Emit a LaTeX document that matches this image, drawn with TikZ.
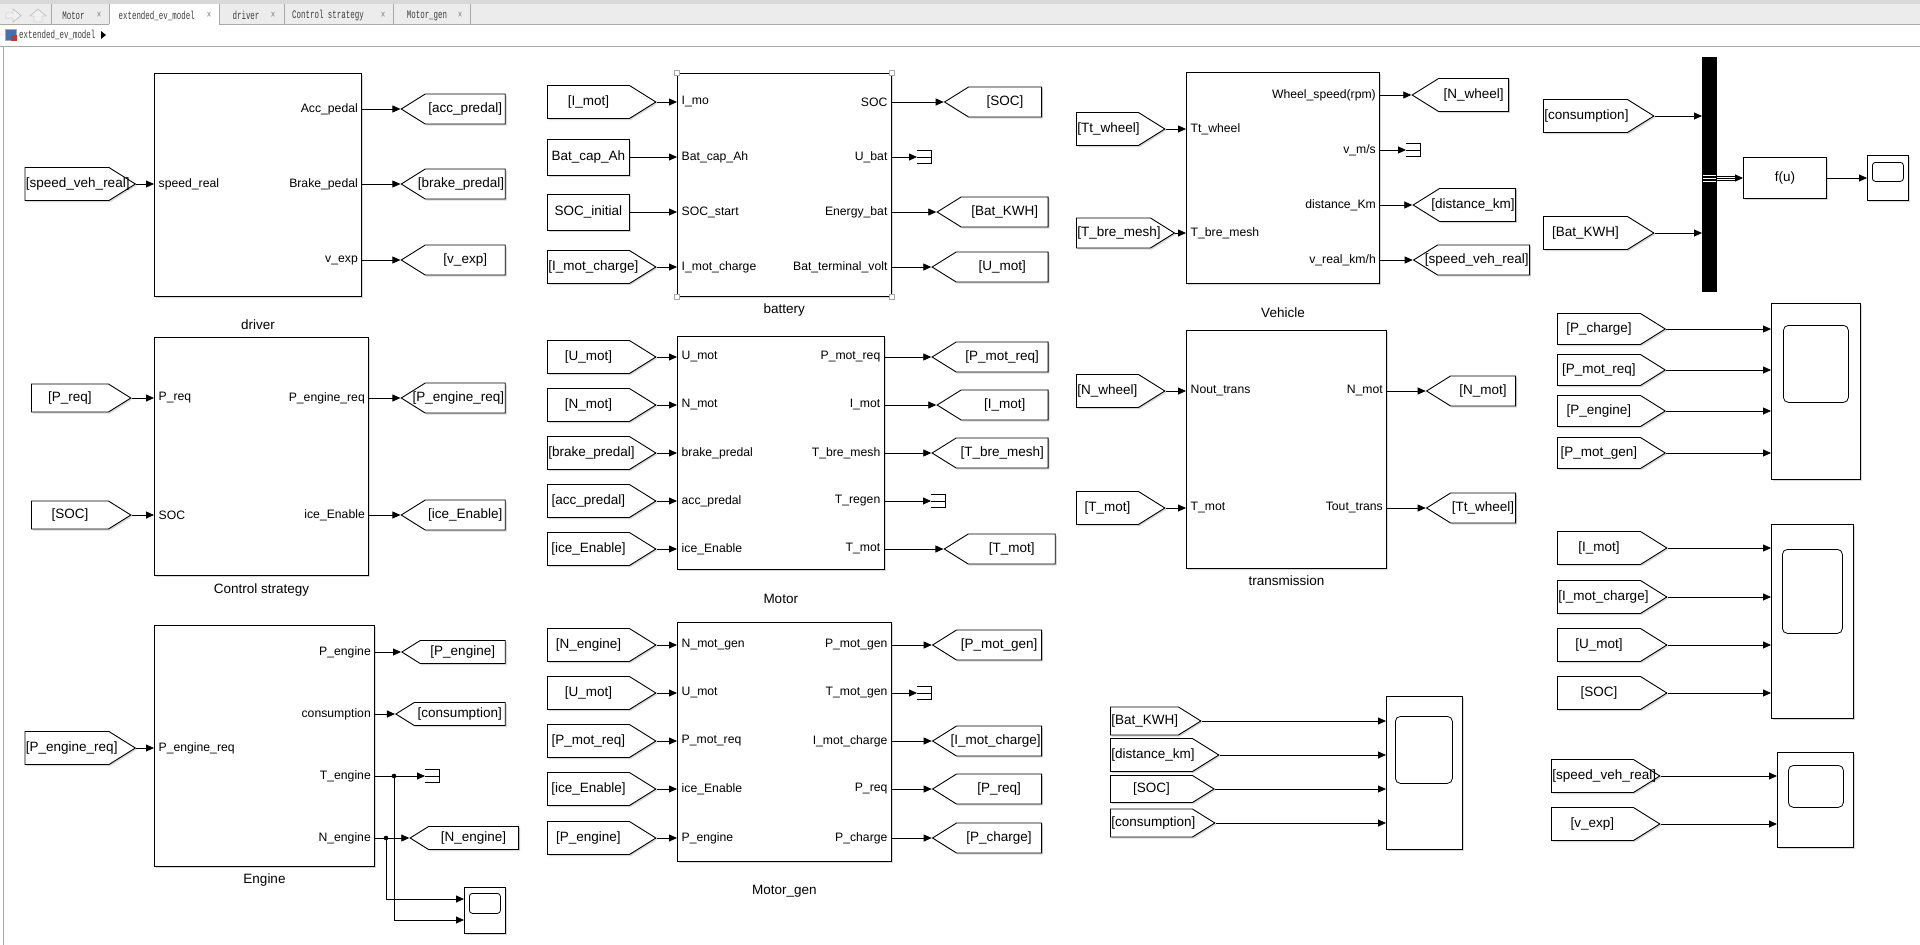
\documentclass[tikz,border=0pt]{standalone}
\usepackage{fontspec}
\setmainfont{Liberation Sans}
\newfontfamily\tabfont{Liberation Mono}
\usetikzlibrary{arrows.meta,positioning,shapes.symbols,shadows,calc}
\definecolor{chrome}{HTML}{ECECEC}
\definecolor{chromedark}{HTML}{D8D8D8}
\definecolor{rule}{HTML}{A9A9A9}
\definecolor{tabink}{HTML}{3C3C3C}
\definecolor{iconblue}{HTML}{3F6FB5}
\definecolor{iconred}{HTML}{C0392B}
\newcommand{\tabtext}[1]{\scalebox{.65}[1]{#1}}
\newcommand{\tagin}[1]{\hbox to\hsize{\hfil#1\hskip 0pt plus 1fil minus 1fil}}
\newcommand{\tagout}[1]{\hbox to\hsize{\hskip 0pt plus 1fil minus 1fil#1\hfil}}

\begin{document}
\begin{tikzpicture}[x=1pt,y=-1pt,>={Triangle[length=8pt,width=7pt]},
  font=\fontsize{13.5}{15}\selectfont,
  portfont/.style={font=\fontsize{12.2}{14}\selectfont},
  tagfont/.style={font=\fontsize{13.5}{15}\selectfont},
  namefont/.style={font=\fontsize{13.5}{15}\selectfont},
  boxshadow/.style={drop shadow={shadow xshift=1.5pt,shadow yshift=-1.5pt,opacity=.3}},
  blk/.style={draw,line width=1pt,fill=white,inner sep=0pt,anchor=north west,boxshadow},
  blkname/.style={namefont,inner sep=0pt},
  scopescreen/.style={draw,line width=.8pt,rounded corners=5pt,inner sep=0pt,anchor=north west},
  constblk/.style={tagfont,draw,line width=.9pt,fill=white,anchor=west,inner sep=0pt,
    minimum width=82pt,minimum height=36pt,boxshadow},
  tagbox/.style={tagfont,shape=signal,draw,line width=.9pt,fill=white,inner xsep=1pt,
    inner ysep=0pt,minimum height=33pt,signal pointer angle=64,text width=#1,boxshadow},
  fromtag/.style={tagbox=#1,signal to=east,anchor=west},
  gototag/.style={tagbox=#1,signal to=west,anchor=east},
  fromtag/.default=80pt, gototag/.default=80pt,
  inl/.style={portfont,anchor=west,inner sep=0pt,xshift=4.5pt},
  outl/.style={portfont,anchor=east,inner sep=0pt,xshift=-4pt},
  termblk/.style={minimum width=14pt,minimum height=13pt,inner sep=0pt,anchor=west},
  sig/.style={->,line width=.8pt},
  tabtxt/.style={font=\tabfont\fontsize{11.5}{12}\selectfont,text=tabink,inner sep=0pt}]

\fill[white] (0,0) rectangle (1920,945);
\useasboundingbox (0,0) rectangle (1920,945);

% window chrome
\fill[chromedark] (0,0) rectangle (1920,4);
\fill[chrome] (0,4) rectangle (1920,24);
\fill[white] (109,4) rectangle (219,25);
\draw[rule] (0,24) -- (109,24) (219,24) -- (1920,24);
\foreach \x in {51,109,219,284,393,470} \draw[rule] (\x,4) -- (\x,24);
\draw[rule,fill=gray!12] (6,13) -- (13,13) -- (13,9) -- (21,15.5) -- (13,22) -- (13,18) -- (6,18) -- cycle;
\draw[rule,fill=gray!12] (34,22) -- (34,16) -- (30,16) -- (38,9) -- (46,16) -- (42,16) -- (42,22) -- cycle;
\foreach \x/\t/\c [count=\i] in {73.5/Motor/99,156.7/extended\_ev\_model/209,246/driver/273,328/Control strategy/383,427/Motor\_gen/460}{
  \node[tabtxt] (tab\i) at (\x,15.5) {\tabtext{\t}};
  \node[tabtxt,text=gray] (cls\i) at (\c,15) {\tabtext{×}};
}
\draw[rule] (0,46) -- (1920,46);
\draw[rule] (3.5,46) -- (3.5,945);
\node[draw=rule,fill=iconblue,minimum size=11pt,inner sep=0pt] (icon) at (11,35) {};
\fill[iconred] (11,35) rectangle (16.5,40.5);
\node[tabtxt,anchor=west] (crumb) at (19,35) {\tabtext{extended\_ev\_model}};
\fill (101,31) -- (106,35) -- (101,39) -- cycle;

% ---------- driver
\node[blk,minimum width=207pt,minimum height=223pt] (driver) at (154,73) {};
\node[blkname,below=23pt of driver] (driverlbl) {driver};
\node[inl] (drvIn) at (driver.west |- 0,184) {speed\_real};
\node[fromtag=82pt] (fDrv) at (24.5,184) {\tagin{[speed\_veh\_real]}};
\draw[sig] (fDrv.east) -- (driver.west |- fDrv.east);
\foreach \y/\t/\g [count=\i] in {109/Acc\_pedal/acc\_predal,184/Brake\_pedal/brake\_predal,260/v\_exp/v\_exp}{
  \node[outl] (drvOut\i) at (driver.east |- 0,\y) {\t};
  \node[gototag=78pt,minimum height=30pt] (gDrv\i) at (505.7,\y) {\tagout{[\g]}};
  \draw[sig] (driver.east |- gDrv\i.west) -- (gDrv\i.west);
}

% ---------- control strategy
\node[blk,minimum width=214pt,minimum height=238pt] (ctrl) at (154,337) {};
\node[blkname,below=8pt of ctrl] (ctrllbl) {Control strategy};
\foreach \y/\t [count=\i] in {398/P\_req,515/SOC}{
  \node[inl] (ctrlIn\i) at (ctrl.west |- 0,\y) {\t};
  \node[fromtag=75pt,minimum height=28pt] (fCtrl\i) at (31,\y) {\tagin{[\t]}};
  \draw[sig] (fCtrl\i.east) -- (ctrl.west |- fCtrl\i.east);
}
\foreach \y/\t [count=\i] in {398/P\_engine\_req,515/ice\_Enable}{
  \node[outl] (ctrlOut\i) at (ctrl.east |- 0,\y) {\t};
  \node[gototag=78pt,minimum height=30pt] (gCtrl\i) at (505.7,\y) {\tagout{[\t]}};
  \draw[sig] (ctrl.east |- gCtrl\i.west) -- (gCtrl\i.west);
}

% ---------- engine
\node[blk,minimum width=220pt,minimum height=241pt] (engine) at (154,625) {};
\node[blkname,below=7pt of engine] (enginelbl) {Engine};
\node[inl] (engIn) at (engine.west |- 0,748) {P\_engine\_req};
\node[fromtag=82pt] (fEng) at (24.5,748) {\tagin{[P\_engine\_req]}};
\draw[sig] (fEng.east) -- (engine.west |- fEng.east);
\foreach \y/\t [count=\i] in {652/P\_engine,714/consumption,776/T\_engine,838/N\_engine}
  \node[outl] (engOut\i) at (engine.east |- 0,\y) {\t};
\node[gototag=83pt,minimum height=23pt] (gEng1) at (505.7,652) {\tagout{[P\_engine]}};
\node[gototag=89pt,minimum height=23pt] (gEng2) at (505.7,714) {\tagout{[consumption]}};
\node[termblk] (tEng) at (425,776) {};
\node[gototag=88pt,minimum height=23pt] (gEng4) at (519,838) {\tagout{[N\_engine]}};
\foreach \n in {gEng1,gEng2,tEng,gEng4}
  \draw[sig] (engine.east |- \n.west) -- (\n.west);
\node[blk,minimum width=41pt,minimum height=46pt] (eScope) at (464,887) {};
\node[scopescreen,minimum width=31pt,minimum height=20pt,rounded corners=3pt] (eScreen) at (469,893) {};
\coordinate (jT) at (394,776);
\coordinate (jN) at (386,838);
\draw[sig] (jT) |- (eScope.west |- 0,920);
\draw[sig] (jN) |- (eScope.west |- 0,899);
\fill (jT) circle (2.3pt) (jN) circle (2.3pt);

% ---------- battery
\node[blk,minimum width=213.6pt,minimum height=223pt] (battery) at (677,73) {};
\node[blkname,below=7pt of battery] (batterylbl) {battery};
\foreach \a [count=\i] in {north west,north east,south west,south east}
  \node[draw=rule,fill=white,line width=.6pt,minimum size=5pt,inner sep=0pt] (hdl\i) at (battery.\a) {};
\foreach \y/\t [count=\i] in {102/I\_mo,157/Bat\_cap\_Ah,212/SOC\_start,267/I\_mot\_charge}
  \node[inl] (batIn\i) at (battery.west |- 0,\y) {\t};
\foreach \y/\t [count=\i] in {102/SOC,157/U\_bat,212/Energy\_bat,267/Bat\_terminal\_volt}
  \node[outl] (batOut\i) at (battery.east |- 0,\y) {\t};
\node[fromtag] (fBat1) at (547,102) {\tagin{[I\_mot]}};
\node[constblk] (cBat2) at (547,157) {Bat\_cap\_Ah};
\node[constblk] (cBat3) at (547,212) {SOC\_initial};
\node[fromtag] (fBat4) at (547,267) {\tagin{[I\_mot\_charge]}};
\foreach \n in {fBat1,cBat2,cBat3,fBat4}
  \draw[sig] (\n.east) -- (battery.west |- \n.east);
\node[gototag=71pt,minimum height=30pt] (gBat1) at (1042,102) {\tagout{[SOC]}};
\node[termblk] (tBat) at (917,157) {};
\node[gototag=85pt,minimum height=30pt] (gBat3) at (1048.6,212) {\tagout{[Bat\_KWH]}};
\node[gototag=90pt,minimum height=30pt] (gBat4) at (1048.6,267) {\tagout{[U\_mot]}};
\foreach \n in {gBat1,tBat,gBat3,gBat4}
  \draw[sig] (battery.east |- \n.west) -- (\n.west);

% ---------- motor
\node[blk,minimum width=206.5pt,minimum height=233pt] (motor) at (677,336) {};
\node[blkname,below=24pt of motor] (motorlbl) {Motor};
\foreach \y/\t [count=\i] in {357/U\_mot,405/N\_mot,453/brake\_predal,501/acc\_predal,549/ice\_Enable}{
  \node[inl] (motIn\i) at (motor.west |- 0,\y) {\t};
  \node[fromtag] (fMot\i) at (547,\y) {\tagin{[\t]}};
  \draw[sig] (fMot\i.east) -- (motor.west |- fMot\i.east);
}
\foreach \y/\t [count=\i] in {357/P\_mot\_req,405/I\_mot,453/T\_bre\_mesh,501/T\_regen,549/T\_mot}
  \node[outl] (motOut\i) at (motor.east |- 0,\y) {\t};
\node[gototag=90pt,minimum height=30pt] (gMot1) at (1048.6,357) {\tagout{[P\_mot\_req]}};
\node[gototag=85pt,minimum height=30pt] (gMot2) at (1048.6,405) {\tagout{[I\_mot]}};
\node[gototag=90pt,minimum height=30pt] (gMot3) at (1048.6,453) {\tagout{[T\_bre\_mesh]}};
\node[termblk] (tMot) at (931,501) {};
\node[gototag=85pt,minimum height=30pt] (gMot5) at (1055.7,549) {\tagout{[T\_mot]}};
\foreach \n in {gMot1,gMot2,gMot3,tMot,gMot5}
  \draw[sig] (motor.east |- \n.west) -- (\n.west);

% ---------- motor_gen
\node[blk,minimum width=213.6pt,minimum height=239pt] (motgen) at (677,622) {};
\node[blkname,below=23pt of motgen] (motgenlbl) {Motor\_gen};
\foreach \y/\t/\s [count=\i] in {645/N\_mot\_gen/N\_engine,693/U\_mot/U\_mot,741/P\_mot\_req/P\_mot\_req,789/ice\_Enable/ice\_Enable,838/P\_engine/P\_engine}{
  \node[inl] (genIn\i) at (motgen.west |- 0,\y) {\t};
  \node[fromtag] (fGen\i) at (547,\y) {\tagin{[\s]}};
  \draw[sig] (fGen\i.east) -- (motgen.west |- fGen\i.east);
}
\foreach \y/\t [count=\i] in {645/P\_mot\_gen,693/T\_mot\_gen,741/I\_mot\_charge,789/P\_req,838/P\_charge}
  \node[outl] (genOut\i) at (motgen.east |- 0,\y) {\t};
\foreach \y/\t [count=\i] in {645/P\_mot\_gen,741/I\_mot\_charge,789/P\_req,838/P\_charge}{
  \node[gototag=83pt,minimum height=30pt] (gGen\i) at (1042,\y) {\tagout{[\t]}};
  \draw[sig] (motgen.east |- gGen\i.west) -- (gGen\i.west);
}
\node[termblk] (tGen) at (917,693) {};
\draw[sig] (motgen.east |- tGen.west) -- (tGen.west);

% ---------- vehicle
\node[blk,minimum width=193pt,minimum height=211pt] (vehicle) at (1186,72) {};
\node[blkname,below=24pt of vehicle] (vehiclelbl) {Vehicle};
\node[inl] (vehIn1) at (vehicle.west |- 0,129) {Tt\_wheel};
\node[inl] (vehIn2) at (vehicle.west |- 0,233) {T\_bre\_mesh};
\node[outl] (vehOut1) at (vehicle.east |- 0,95) {Wheel\_speed(rpm)};
\node[outl] (vehOut2) at (vehicle.east |- 0,150) {v\_m/s};
\node[outl] (vehOut3) at (vehicle.east |- 0,205) {distance\_Km};
\node[outl] (vehOut4) at (vehicle.east |- 0,260) {v\_real\_km/h};
\node[fromtag=60pt] (fVeh1) at (1076,129) {\tagin{[Tt\_wheel]}};
\node[fromtag=72pt,minimum height=30pt] (fVeh2) at (1076,233) {\tagin{[T\_bre\_mesh]}};
\foreach \n in {fVeh1,fVeh2}
  \draw[sig] (\n.east) -- (vehicle.west |- \n.east);
\node[gototag=68pt] (gVeh1) at (1509,95) {\tagout{[N\_wheel]}};
\node[termblk] (tVeh) at (1406,150) {};
\node[gototag=74pt] (gVeh3) at (1516,205) {\tagout{[distance\_km]}};
\node[gototag=90pt,minimum height=30pt] (gVeh4) at (1530,260) {\tagout{[speed\_veh\_real]}};
\foreach \n in {gVeh1,tVeh,gVeh3,gVeh4}
  \draw[sig] (vehicle.east |- \n.west) -- (\n.west);

% ---------- transmission
\node[blk,minimum width=200pt,minimum height=238pt] (trans) at (1186,330) {};
\node[blkname,below=7pt of trans] (translbl) {transmission};
\foreach \y/\a/\b/\s/\g [count=\i] in {391/Nout\_trans/N\_mot/N\_wheel/N\_mot,508/T\_mot/Tout\_trans/T\_mot/Tt\_wheel}{
  \node[inl] (trIn\i) at (trans.west |- 0,\y) {\a};
  \node[outl] (trOut\i) at (trans.east |- 0,\y) {\b};
  \node[fromtag=60pt] (fTr\i) at (1076,\y) {\tagin{[\s]}};
  \node[gototag=63pt,minimum height=30pt] (gTr\i) at (1516,\y) {\tagout{[\g]}};
  \draw[sig] (fTr\i.east) -- (trans.west |- fTr\i.east);
  \draw[sig] (trans.east |- gTr\i.west) -- (gTr\i.west);
}

% ---------- scopes
\node[blk,minimum width=76pt,minimum height=153pt] (scM) at (1386,696) {};
\node[scopescreen,minimum width=57pt,minimum height=67pt] (scMscr) at (1395,716) {};
\foreach \y/\t/\w/\h [count=\i] in {721/Bat\_KWH/66pt/28pt,755/distance\_km/80pt/33pt,789/SOC/80pt/27pt,823/consumption/80pt/28pt}{
  \node[fromtag=\w,minimum height=\h] (fM\i) at (1110,\y) {\tagin{[\t]}};
  \draw[sig] (fM\i.east) -- (scM.west |- fM\i.east);
}

% mux, f(u)
\node[draw,fill=black,minimum width=14pt,minimum height=234pt,inner sep=0pt,anchor=north west] (mux) at (1702,57) {};
\node[blk,minimum width=83pt,minimum height=41pt] (fu) at (1743,157) {f(u)};
\node[blk,minimum width=41pt,minimum height=45pt] (fScope) at (1867,155) {};
\node[scopescreen,minimum width=31pt,minimum height=19pt,rounded corners=3pt] (fScreen) at (1872,162) {};
\foreach \y/\t [count=\i] in {116/consumption,233/Bat\_KWH}{
  \node[fromtag=82pt] (fMux\i) at (1543,\y) {\tagin{[\t]}};
  \draw[sig] (fMux\i.east) -- (mux.west |- fMux\i.east);
}
\foreach \d in {-3,0,3}
  \draw[white,line width=.8pt] ([xshift=1pt,yshift=\d pt]mux.west |- fu.west) -- ([yshift=\d pt]mux.east |- fu.west);
\draw[sig] (mux.east |- fu.west) -- (fu.west);
\draw[line width=.6pt] ([yshift=2pt]mux.east |- fu.west) -- ([xshift=-8pt,yshift=2pt]fu.west)
  ([yshift=-2pt]mux.east |- fu.west) -- ([xshift=-8pt,yshift=-2pt]fu.west);
\draw[sig] (fu.east) -- (fScope.west |- fu.east);

% power scope
\node[blk,minimum width=89pt,minimum height=176pt] (scA) at (1771,303) {};
\node[scopescreen,minimum width=65pt,minimum height=77pt] (scAscr) at (1783,325) {};
\foreach \y/\t [count=\i] in {329/P\_charge,370/P\_mot\_req,411/P\_engine,453/P\_mot\_gen}{
  \node[fromtag=81pt,minimum height=31pt] (fA\i) at (1557,\y) {\tagin{[\t]}};
  \draw[sig] (fA\i.east) -- (scA.west |- fA\i.east);
}

% current/voltage scope
\node[blk,minimum width=82pt,minimum height=194pt] (scB) at (1771,524) {};
\node[scopescreen,minimum width=60pt,minimum height=84pt] (scBscr) at (1782,549) {};
\foreach \y/\t [count=\i] in {548/I\_mot,597/I\_mot\_charge,645/U\_mot,693/SOC}{
  \node[fromtag=81pt] (fB\i) at (1557,\y) {\tagin{[\t]}};
  \draw[sig] (fB\i.east) -- (scB.west |- fB\i.east);
}

% speed scope
\node[blk,minimum width=76pt,minimum height=95pt] (scC) at (1777,752) {};
\node[scopescreen,minimum width=55pt,minimum height=42pt] (scCscr) at (1788,765) {};
\foreach \y/\t [count=\i] in {776/speed\_veh\_real,824/v\_exp}{
  \node[fromtag=80pt] (fC\i) at (1551,\y) {\tagin{[\t]}};
  \draw[sig] (fC\i.east) -- (scC.west |- fC\i.east);
}

% terminators
\foreach \n in {tEng,tBat,tMot,tGen,tVeh}
  \draw[line width=.8pt] (\n.north west) -- (\n.north east) -- (\n.south east) -- (\n.south west)
    (\n.west) -- (\n.east);
\end{tikzpicture}
\end{document}
